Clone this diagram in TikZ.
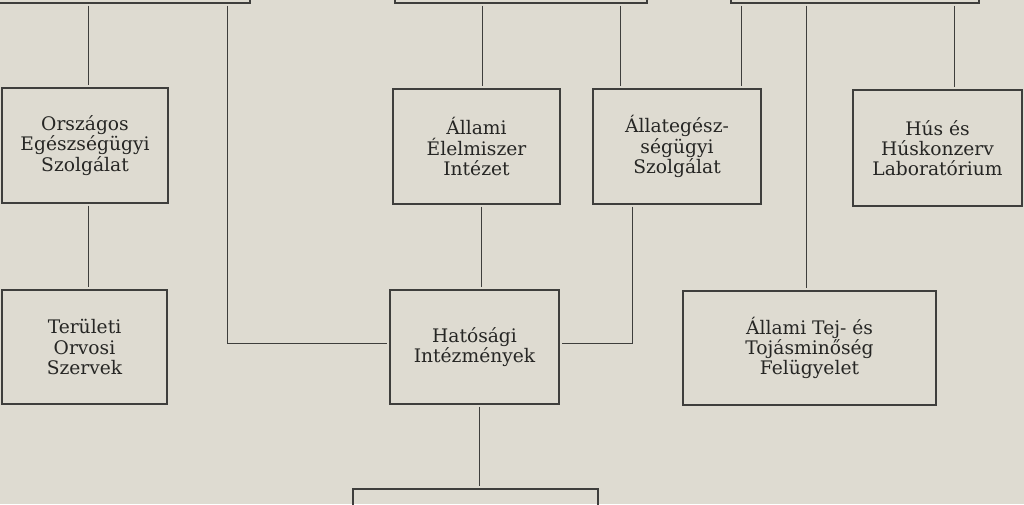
\documentclass[tikz,border=0pt]{standalone}
\usepackage{fontspec}
\setmainfont{DejaVu Serif}
\definecolor{paper}{RGB}{222,219,209}
\definecolor{ink}{RGB}{38,38,36}
\definecolor{lineink}{RGB}{62,62,60}
\begin{document}
\begin{tikzpicture}[x=0.75pt,y=-0.75pt,
  box/.style={draw=lineink,line width=0.9pt,inner sep=0pt,align=center,
    text=ink,font=\fontsize{14}{15.2}\selectfont},
  conn/.style={draw=lineink,line width=0.6pt,shorten <=1.5pt,shorten >=2pt}]
\fill[paper] (0,0) rectangle (1024,504);
\useasboundingbox (0,0) rectangle (1024,504);
\clip (0,0) rectangle (1024,504);
% top boxes (cut off)
\node[box,minimum width=260*0.75pt,minimum height=63*0.75pt] (top1) at (120,-28.5) {};
\node[box,minimum width=252*0.75pt,minimum height=63*0.75pt] (top2) at (521,-28.5) {};
\node[box,minimum width=248*0.75pt,minimum height=63*0.75pt] (top3) at (855,-28.5) {};
% boxes
\node[box,minimum width=166*0.75pt,minimum height=115*0.75pt] (orsz) at (85,145.5) {Országos\\Egészségügyi\\Szolgálat};
\node[box,minimum width=165*0.75pt,minimum height=114*0.75pt] (teru) at (84.5,347) {Területi\\Orvosi\\Szervek};
\node[box,minimum width=167*0.75pt,minimum height=115*0.75pt] (elel) at (476.5,146.5) {Állami\\Élelmiszer\\Intézet};
\node[box,minimum width=168*0.75pt,minimum height=115*0.75pt] (allat) at (677,146.5) {Állategész-\\ségügyi\\Szolgálat};
\node[box,minimum width=169*0.75pt,minimum height=116*0.75pt] (hus) at (937.5,148) {Hús és\\Húskonzerv\\Laboratórium};
\node[box,minimum width=169*0.75pt,minimum height=114*0.75pt] (hat) at (474.5,347) {Hatósági\\Intézmények};
\node[box,minimum width=253*0.75pt,minimum height=114*0.75pt] (tej) at (809.5,348) {Állami Tej- és\\Tojásminőség\\Felügyelet};
\node[box,minimum width=245*0.75pt,minimum height=71*0.75pt] (bot) at (475.5,524.5) {};
% x positions
\coordinate (xa) at (88,0);
\coordinate (xl) at (227,0);
\coordinate (xb) at (482,0);
\coordinate (xc) at (620,0);
\coordinate (xd) at (741,0);
\coordinate (xe) at (806,0);
\coordinate (xf) at (954,0);
\coordinate (xg) at (481,0);
\coordinate (xh) at (632,0);
\coordinate (xi) at (479,0);
\coordinate (yh) at (0,343);
% connectors
\draw[conn] (top1.south -| xa) -- (orsz.north -| xa);
\draw[conn] (orsz.south -| xa) -- (teru.north -| xa);
\draw[conn] (top1.south -| xl) |- (hat.west |- yh);
\draw[conn] (top2.south -| xb) -- (elel.north -| xb);
\draw[conn] (top2.south -| xc) -- (allat.north -| xc);
\draw[conn] (top3.south -| xd) -- (allat.north -| xd);
\draw[conn] (top3.south -| xe) -- (tej.north -| xe);
\draw[conn] (top3.south -| xf) -- (hus.north -| xf);
\draw[conn] (elel.south -| xg) -- (hat.north -| xg);
\draw[conn] (allat.south -| xh) |- (hat.east |- yh);
\draw[conn] (hat.south -| xi) -- (bot.north -| xi);
\end{tikzpicture}
\end{document}
